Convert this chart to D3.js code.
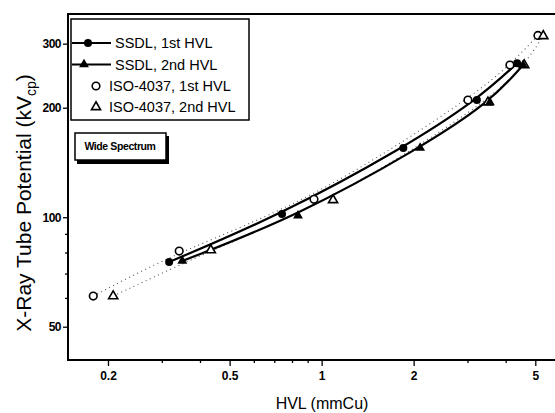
<!DOCTYPE html>
<html><head><meta charset="utf-8">
<script src="https://cdn.jsdelivr.net/npm/d3@7"></script>
<style>body{margin:0;background:#fff}svg{display:block}</style>
</head><body>
<svg id="c" width="555" height="413"></svg>
<script>
// ---- data (HVL in mmCu, tube potential in kVcp) ----
const ssdl1HVL = [0.317, 0.742, 1.85, 3.22, 4.36];
const ssdl1kV  = [75.3, 102, 155, 210, 265];
const ssdl2HVL = [0.350, 0.837, 2.10, 3.55, 4.56];
const ssdl2kV  = [75.8, 101, 155, 207, 262];
const iso1HVL  = [0.179, 0.342, 0.944, 3.01, 4.13, 5.10];
const iso1kV   = [60.7, 80.7, 112, 210, 262, 316];
const iso2HVL  = [0.208, 0.434, 1.09, 3.50, 4.60, 5.31];
const iso2kV   = [60.7, 81.2, 111.5, 207, 262, 315];
const xMajorTicks = [0.2, 0.5, 1, 2, 5];
const xMinorTicks = [0.3, 0.4, 0.6, 0.7, 0.8, 0.9, 3, 4];
const yMajorTicks = [50, 100, 200, 300];
const yMinorTicks = [60, 70, 80, 90];
const legendLabels = ["SSDL, 1st HVL", "SSDL, 2nd HVL", "ISO-4037, 1st HVL", "ISO-4037, 2nd HVL"];
const boxLabel = "Wide Spectrum";

const svg = d3.select('#c');
const FONT = "'Liberation Sans', Arial, Helvetica, sans-serif";
const x = d3.scaleLog().domain([0.148, 5.8]).range([68, 555]);
const y = d3.scaleLog().domain([40.5, 362]).range([360, 14]);

const zip = (a, b) => a.map((v, i) => [v, b[i]]);
const ssdl1 = zip(ssdl1HVL, ssdl1kV), ssdl2 = zip(ssdl2HVL, ssdl2kV);
const iso1 = zip(iso1HVL, iso1kV), iso2 = zip(iso2HVL, iso2kV);

// frame top line
svg.append('line').attr('x1', 67).attr('x2', 555).attr('y1', 14).attr('y2', 14)
  .attr('stroke', '#000').attr('stroke-width', 1.8);

// axes
function styleAxis(g) {
  g.select('.domain').remove();
  g.selectAll('line').attr('stroke', '#000').attr('stroke-width', 1.3);
  g.selectAll('text').attr('font-family', FONT).attr('font-weight', 'bold')
    .attr('font-size', 12).attr('fill', '#000');
}
const xAxisMinor = svg.append('g').attr('transform', 'translate(0,360)')
  .call(d3.axisBottom(x).tickValues(xMinorTicks).tickSize(3).tickFormat(''));
styleAxis(xAxisMinor);
const xAxis = svg.append('g').attr('transform', 'translate(0,360)')
  .call(d3.axisBottom(x).tickValues(xMajorTicks).tickSize(6).tickPadding(5).tickFormat(d3.format('')));
styleAxis(xAxis);
const yAxisMinor = svg.append('g').attr('transform', 'translate(68,0)')
  .call(d3.axisLeft(y).tickValues(yMinorTicks).tickSize(3).tickFormat(''));
styleAxis(yAxisMinor);
const yAxis = svg.append('g').attr('transform', 'translate(68,0)')
  .call(d3.axisLeft(y).tickValues(yMajorTicks).tickSize(5).tickPadding(2).tickFormat(d3.format('')));
styleAxis(yAxis);
yAxis.selectAll('text').attr('letter-spacing', -0.5);

svg.append('line').attr('x1', 68).attr('x2', 68).attr('y1', 13).attr('y2', 361)
  .attr('stroke', '#000').attr('stroke-width', 2);
svg.append('line').attr('x1', 67).attr('x2', 555).attr('y1', 360).attr('y2', 360)
  .attr('stroke', '#000').attr('stroke-width', 2);

// axis titles
svg.append('text').attr('x', 322).attr('y', 409).attr('text-anchor', 'middle')
  .attr('font-family', FONT).attr('font-size', 16).text('HVL (mmCu)');
const yt = svg.append('text').attr('transform', 'translate(31,203) rotate(-90)')
  .attr('text-anchor', 'middle').attr('font-family', FONT).attr('font-size', 21);
yt.append('tspan').text('X-Ray Tube Potential (kV');
yt.append('tspan').attr('font-size', 14).attr('dy', 5).text('cp');
yt.append('tspan').attr('dy', -5).text(')');

// lines
const smooth = d3.line().x(d => x(d[0])).y(d => y(d[1])).curve(d3.curveBasis);
[iso1, iso2].forEach(s => svg.append('path').attr('d', smooth(s)).attr('fill', 'none')
  .attr('stroke', '#555').attr('stroke-width', 1.1).attr('stroke-dasharray', '1,3.5'));
[ssdl1, ssdl2].forEach(s => svg.append('path').attr('d', smooth(s)).attr('fill', 'none')
  .attr('stroke', '#000').attr('stroke-width', 2.2));

// markers
const tri = d3.symbol().type(d3.symbolTriangle).size(42);
function filledCircle(g, cx, cy) { g.append('circle').attr('cx', cx).attr('cy', cy).attr('r', 4).attr('fill', '#000'); }
function openCircle(g, cx, cy) { g.append('circle').attr('cx', cx).attr('cy', cy).attr('r', 3.8).attr('fill', '#fff').attr('stroke', '#000').attr('stroke-width', 1.6); }
function filledTri(g, cx, cy) { g.append('path').attr('d', tri()).attr('transform', `translate(${cx},${cy})`).attr('fill', '#000'); }
function openTri(g, cx, cy) { g.append('path').attr('d', d3.symbol().type(d3.symbolTriangle).size(36)()).attr('transform', `translate(${cx},${cy})`).attr('fill', '#fff').attr('stroke', '#000').attr('stroke-width', 1.6); }

const mg = svg.append('g');
iso1.forEach(d => openCircle(mg, x(d[0]), y(d[1])));
iso2.forEach(d => openTri(mg, x(d[0]), y(d[1])));
ssdl1.forEach(d => filledCircle(mg, x(d[0]), y(d[1])));
ssdl2.forEach(d => filledTri(mg, x(d[0]), y(d[1])));

// legend
const lg = svg.append('g');
lg.append('rect').attr('x', 71).attr('y', 19).attr('width', 178).attr('height', 101)
  .attr('fill', '#fff').attr('stroke', '#000').attr('stroke-width', 1.5);
const rowY = [43, 64.5, 86, 107];
lg.append('line').attr('x1', 72).attr('x2', 111).attr('y1', rowY[0]).attr('y2', rowY[0]).attr('stroke', '#000').attr('stroke-width', 2);
filledCircle(lg, 88, rowY[0]);
lg.append('line').attr('x1', 72).attr('x2', 111).attr('y1', rowY[1]).attr('y2', rowY[1]).attr('stroke', '#000').attr('stroke-width', 2);
filledTri(lg, 84, rowY[1]);
openCircle(lg, 96, rowY[2]);
openTri(lg, 96, rowY[3]);
const textX = [115, 115, 109, 109];
legendLabels.forEach((t, i) => lg.append('text').attr('x', textX[i]).attr('y', rowY[i] + 5)
  .attr('font-family', FONT).attr('font-size', 14.5).text(t));

// wide spectrum box
const bg = svg.append('g');
bg.append('rect').attr('x', 77).attr('y', 136).attr('width', 92).attr('height', 28).attr('fill', '#000');
bg.append('rect').attr('x', 75).attr('y', 133).attr('width', 91).attr('height', 27)
  .attr('fill', '#fff').attr('stroke', '#000').attr('stroke-width', 1.5);
bg.append('text').attr('x', 120).attr('y', 150).attr('text-anchor', 'middle')
  .attr('font-family', FONT).attr('font-weight', 'bold').attr('font-size', 10.5)
  .attr('letter-spacing', -0.4).text(boxLabel);
</script>
</body></html>
